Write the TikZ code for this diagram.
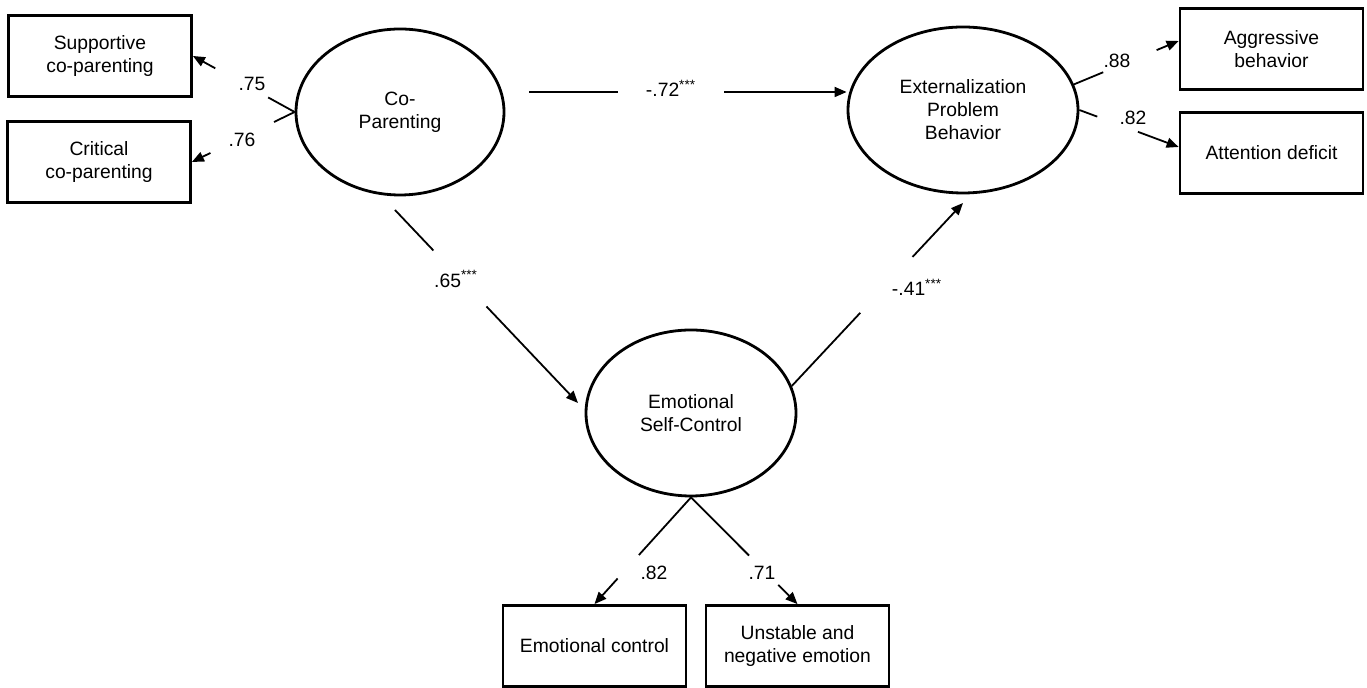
\documentclass[tikz,border=0pt]{standalone}
\usepackage{fontspec}
\setmainfont{Liberation Sans}
\usetikzlibrary{arrows.meta,shapes.geometric,calc}

\begin{document}
\begin{tikzpicture}[x=0.5pt,y=-0.5pt,
  every node/.style={font=\fontsize{9.65}{11.5}\selectfont},
  latent/.style={ellipse,draw,line width=1.4pt,minimum height=83pt,inner sep=0pt,align=center},
  indicator/.style={rectangle,draw,line width=1.4pt,minimum width=91.5pt,minimum height=40.5pt,align=center},
  link/.style={line width=0.9pt},
  arrow/.style={line width=0.9pt,-{Triangle[length=6pt,width=5pt]}},
  coef/.style={inner sep=0pt}]
  \useasboundingbox (0,0) rectangle (1367,688);

  % Latent variables
  \node[latent,minimum width=104pt] (cp) at (400,112) {Co-\\Parenting};
  \node[latent,minimum width=115pt] (ext) at (963,110) {Externalization\\Problem\\Behavior};
  \node[latent,minimum width=105pt] (esc) at (691,413) {Emotional\\Self-Control};

  % Observed indicators
  \node[indicator] (sup) at (100,56) {Supportive\\co-parenting};
  \node[indicator] (crit) at (99,162) {Critical\\co-parenting};
  \node[indicator] (agg) at (1271.5,49) {Aggressive\\behavior};
  \node[indicator] (att) at (1271.5,153) {Attention deficit};
  \node[indicator] (ec) at (594.5,646) {Emotional control};
  \node[indicator] (un) at (797.5,646) {Unstable and\\negative emotion};

  % Free ends of the structural paths
  \coordinate (p72) at (529,92);
  \coordinate (e72) at (p72 -| ext.west);
  \coordinate (p65) at (395,210);
  \coordinate (q65) at (578,403);
  \coordinate (q41) at (963,203);
  \coordinate (t88) at ($(agg.west)+(0,-8)$);
  \coordinate (t82) at ($(att.west)+(0,-6)$);

  % Co-Parenting loadings
  \draw[link] (cp.west) -- ($(cp.west)!0.26!(sup.east)$);
  \draw[arrow] ($(cp.west)!0.78!(sup.east)$) -- (sup.east);
  \node[coef] (l75) at (252,84) {.75};
  \draw[link] (cp.west) -- ($(cp.west)!0.2!(crit.east)$);
  \draw[arrow] ($(cp.west)!0.82!(crit.east)$) -- (crit.east);
  \node[coef] (l76) at (242,140) {.76};

  % Structural paths
  \draw[link] (p72) -- ($(p72)!0.279!(e72)$);
  \draw[arrow] ($(p72)!0.614!(e72)$) -- (e72);
  \node[coef] (l72) at (671,88) {-.72\textsuperscript{***}};
  \draw[link] (p65) -- ($(p65)!0.21!(q65)$);
  \draw[arrow] ($(p65)!0.5!(q65)$) -- (q65);
  \node[coef] (l65) at (456,279) {.65\textsuperscript{***}};
  \draw[link] (esc.15) -- ($(esc.15)!0.4!(q41)$);
  \draw[arrow] ($(esc.15)!0.705!(q41)$) -- (q41);
  \node[coef] (l41) at (917,287) {-.41\textsuperscript{***}};

  % Externalization loadings
  \draw[link] (ext.13) -- ($(ext.13)!0.28!(t88)$);
  \draw[arrow] ($(ext.13)!0.79!(t88)$) -- (t88);
  \node[coef] (l88) at (1117,61) {.88};
  \draw[link] (ext.east) -- ($(ext.east)!0.18!(t82)$);
  \draw[arrow] ($(ext.east)!0.59!(t82)$) -- (t82);
  \node[coef] (l82a) at (1133,118) {.82};

  % Self-control loadings
  \draw[link] (esc.south) -- ($(esc.south)!0.54!(ec.north)$);
  \draw[arrow] ($(esc.south)!0.76!(ec.north)$) -- (ec.north);
  \node[coef] (l82b) at (654,573) {.82};
  \draw[link] (esc.south) -- ($(esc.south)!0.545!(un.north)$);
  \draw[arrow] ($(esc.south)!0.82!(un.north)$) -- (un.north);
  \node[coef] (l71) at (762,573) {.71};
\end{tikzpicture}
\end{document}
